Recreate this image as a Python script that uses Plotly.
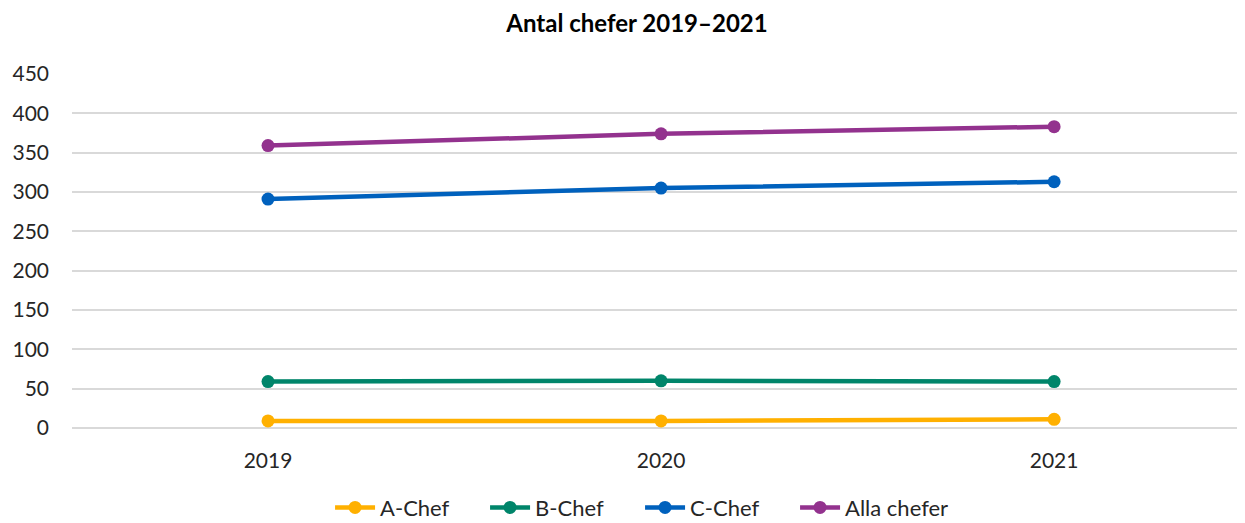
import plotly.graph_objects as go

years = ["2019", "2020", "2021"]
a_chef = [9, 9, 11]
b_chef = [59, 60, 59]
c_chef = [291, 305, 313]
alla = [359, 374, 383]
series_names = ["A-Chef", "B-Chef", "C-Chef", "Alla chefer"]
colors = ["#FFB000", "#00856A", "#0061BD", "#93328E"]

fig = go.Figure()
for name, vals, col in zip(series_names, [a_chef, b_chef, c_chef, alla], colors):
    fig.add_trace(go.Scatter(
        x=years, y=vals, name=name, mode="lines+markers",
        line=dict(color=col, width=4.5),
        marker=dict(color=col, size=13),
    ))

fig.update_layout(
    width=1245, height=523,
    paper_bgcolor="white", plot_bgcolor="white",
    margin=dict(l=64, r=0, t=66, b=103),
    font=dict(family="Lato, Carlito, 'Open Sans', sans-serif", size=21, color="#262626"),
    title=dict(text="<b>Antal chefer 2019–2021</b>", x=(637 - 8) / 1245, xanchor="center",
               y=1 - 16 / 523, yanchor="middle", font=dict(size=24, color="#000000")),
    xaxis=dict(type="category", range=[-0.4987, 2.506], showgrid=False,
               showline=False, ticks="", ticklabelstandoff=18,
               tickfont=dict(size=21, color="#262626")),
    yaxis=dict(range=[0, 450], dtick=50, showgrid=True, gridcolor="#D9D9D9",
               gridwidth=1.5, zeroline=True, zerolinecolor="#D9D9D9", zerolinewidth=1.5,
               ticks="", ticklabelstandoff=22, tickfont=dict(size=21, color="#262626")),
    legend=dict(orientation="h", x=0.481, xanchor="center",
                y=-0.225, yanchor="middle",
                entrywidth=100, entrywidthmode="pixels",
                font=dict(size=22, color="#262626"), itemwidth=40, tracegroupgap=0),
    showlegend=True,
)

fig.write_html("out.html")
